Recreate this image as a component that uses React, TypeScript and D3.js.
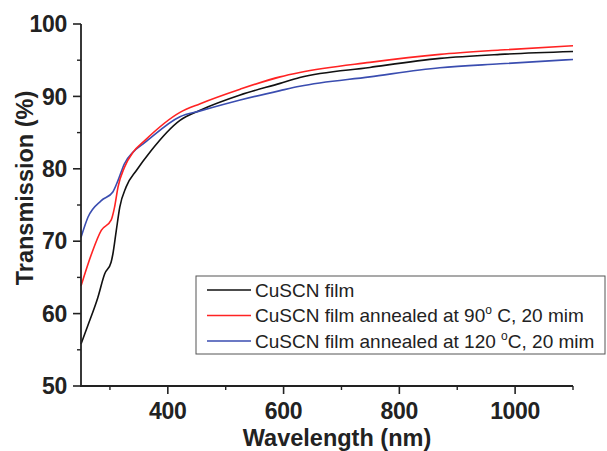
import * as d3 from "d3";

// wavelength (nm), transmission (%)
const blackFilm: [number, number][] = [
  [250, 55.8], [262, 58.4], [279, 62.2], [291, 65.5], [302, 67.1],
  [305, 68.2], [311, 71.5], [317, 74.7], [328, 77.5], [346, 79.8], [370, 82.4],
  [421, 86.7], [456, 88.1], [525, 90.2], [594, 91.8], [628, 92.6], [749, 94.0],
  [870, 95.25], [974, 95.8], [1100, 96.2],
];
const red90: [number, number][] = [
  [250, 63.8], [268, 68.2], [285, 71.5], [302, 72.9], [308, 74.7], [314, 77.5],
  [325, 80.2], [340, 82.3], [360, 83.9], [421, 87.8], [456, 89.0], [525, 91.0],
  [594, 92.7], [628, 93.3], [749, 94.7], [870, 95.8], [974, 96.4], [1100, 97.0],
];
const blue120: [number, number][] = [
  [250, 70.5], [262, 73.3], [285, 75.6], [305, 76.8], [314, 78.4], [325, 80.7],
  [340, 82.3], [360, 83.6], [421, 87.2], [456, 88.0], [525, 89.5], [594, 90.8],
  [628, 91.4], [749, 92.7], [870, 93.95], [974, 94.5], [1100, 95.1],
];

const xMajor = [400, 600, 800, 1000];
const xMinor = [300, 500, 700, 900, 1100];
const yMajor = [50, 60, 70, 80, 90, 100];
const yMinor = [55, 65, 75, 85, 95];

const font = "'Liberation Sans', Arial, sans-serif";

export default function App() {
  const x = d3.scaleLinear().domain([250, 1100]).range([81, 573]);
  const y = d3.scaleLinear().domain([50, 100]).range([386, 24]);

  const line = d3
    .line<[number, number]>()
    .x((d) => x(d[0]))
    .y((d) => y(d[1]))
    .curve(d3.curveMonotoneX);

  const series = [
    { data: blackFilm, color: "#111111" },
    { data: blue120, color: "#3a4db0" },
    { data: red90, color: "#ff2323" },
  ];

  const legendRows = [
    { color: "#111111", label: <>CuSCN film</> },
    {
      color: "#ff2323",
      label: (
        <>
          CuSCN film annealed at 90<tspan dy={-8} fontSize={12}>o</tspan>
          <tspan dy={8}> C, 20 mim</tspan>
        </>
      ),
    },
    {
      color: "#3a4db0",
      label: (
        <>
          CuSCN film annealed at 120 <tspan dy={-8} fontSize={12}>o</tspan>
          <tspan dy={8}>C, 20 mim</tspan>
        </>
      ),
    },
  ];

  return (
    <svg
      width={607}
      height={451}
      style={{ position: "absolute", left: 0, top: 0, background: "#fff" }}
      fontFamily={font}
    >
      {series.map((s, i) => (
        <path key={i} d={line(s.data) ?? ""} fill="none" stroke={s.color} strokeWidth={1.6} />
      ))}

      {/* axes */}
      <line x1={81} x2={81} y1={y(100)} y2={y(50)} stroke="#222" strokeWidth={1.8} />
      <line x1={80} x2={x(1100)} y1={386} y2={386} stroke="#222" strokeWidth={1.8} />

      {yMajor.map((v) => (
        <g key={v}>
          <line x1={73} x2={81} y1={y(v)} y2={y(v)} stroke="#222" strokeWidth={1.6} />
          <text x={67} y={y(v)} dy="0.36em" textAnchor="end" fontSize={23} fontWeight="bold" fill="#222" letterSpacing={-0.3}>
            {v}
          </text>
        </g>
      ))}
      {yMinor.map((v) => (
        <line key={v} x1={77} x2={81} y1={y(v)} y2={y(v)} stroke="#222" strokeWidth={1.4} />
      ))}

      {xMajor.map((v) => (
        <g key={v}>
          <line x1={x(v)} x2={x(v)} y1={386} y2={394} stroke="#222" strokeWidth={1.6} />
          <text x={x(v)} y={419} textAnchor="middle" fontSize={23} fontWeight="bold" fill="#222" letterSpacing={-0.3}>
            {v}
          </text>
        </g>
      ))}
      {xMinor.map((v) => (
        <line key={v} x1={x(v)} x2={x(v)} y1={386} y2={390} stroke="#222" strokeWidth={1.4} />
      ))}

      <text x={337} y={446} textAnchor="middle" fontSize={23.5} fontWeight="bold" fill="#222">
        Wavelength (nm)
      </text>
      <text
        transform="translate(33,188) rotate(-90)"
        textAnchor="middle"
        fontSize={23.5}
        fontWeight="bold"
        fill="#222"
      >
        Transmission (%)
      </text>

      {/* legend */}
      <rect x={196} y={276} width={409} height={78} fill="#fff" stroke="#555" strokeWidth={1} />
      {legendRows.map((r, i) => (
        <g key={i} transform={`translate(0,${290 + i * 25.5})`}>
          <line x1={207} x2={251} y1={0} y2={0} stroke={r.color} strokeWidth={1.6} />
          <text x={255} y={0} dy="0.36em" fontSize={19} fill="#222">
            {r.label}
          </text>
        </g>
      ))}
    </svg>
  );
}
